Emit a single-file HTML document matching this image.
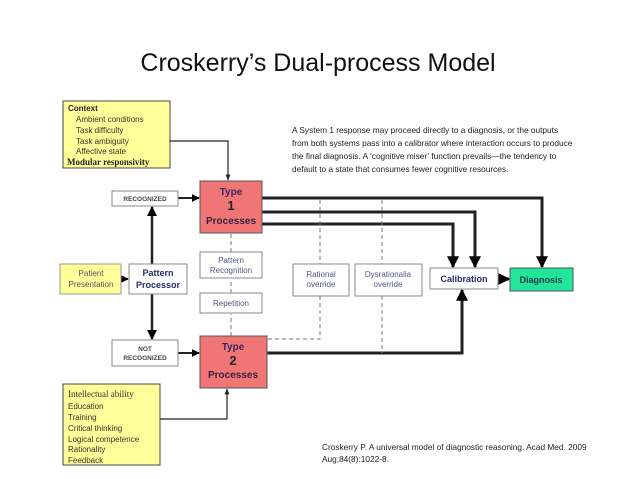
<!DOCTYPE html>
<html><head><meta charset="utf-8"><style>
html,body{margin:0;padding:0;background:#fff;}
svg{display:block;font-family:"Liberation Sans",Arial,sans-serif;}
</style></head><body>
<svg width="638" height="479" viewBox="0 0 638 479" xmlns="http://www.w3.org/2000/svg">
<defs>
<marker id="a" viewBox="0 0 10 10" refX="9" refY="5" markerWidth="4" markerHeight="4" orient="auto"><path d="M0,0L10,5L0,10z" fill="#000"/></marker>
<marker id="s" viewBox="0 0 10 10" refX="9" refY="5" markerWidth="5" markerHeight="5" orient="auto"><path d="M0,1L10,5L0,9z" fill="#222"/></marker>
</defs>
<text x="318" y="71" font-size="25" text-anchor="middle" fill="#111">Croskerry’s Dual-process Model</text>

<!-- Context box -->
<rect x="63" y="101" width="107" height="67" fill="#ffff99" stroke="#444"/>
<g font-size="8" fill="#333">
<text x="68" y="111" font-weight="bold" fill="#222">Context</text>
<text x="76" y="122">Ambient conditions</text>
<text x="76" y="133">Task difficulty</text>
<text x="76" y="144">Task ambiguity</text>
<text x="76" y="154">Affective state</text>
</g>
<text x="67" y="165" font-size="9" font-weight="bold" font-family="Liberation Serif,serif" fill="#222">Modular responsivity</text>

<!-- Paragraph -->
<g font-size="8.3" fill="#222">
<text x="292" y="133">A System 1 response may proceed directly to a diagnosis, or the outputs</text>
<text x="292" y="146">from both systems pass into a calibrator where interaction occurs to produce</text>
<text x="292" y="159">the final diagnosis. A ‘cognitive miser’ function prevails—the tendency to</text>
<text x="292" y="172">default to a state that consumes fewer cognitive resources.</text>
</g>

<!-- lines -->
<g stroke="#222" fill="none">
<path d="M170,141H228V180" stroke-width="1.2" marker-end="url(#s)"/>
<path d="M160,419H227V389" stroke-width="1.2" marker-end="url(#s)"/>
<path d="M178,198H199" stroke-width="2" marker-end="url(#a)"/>
<path d="M178,353H199" stroke-width="2" marker-end="url(#a)"/>
<path d="M152,264V207" stroke-width="2.5" marker-end="url(#a)"/>
<path d="M152,294V339" stroke-width="2.5" marker-end="url(#a)"/>
<path d="M121,279H128" stroke-width="2" marker-end="url(#a)"/>
<path d="M262,198H542V267" stroke-width="3" marker-end="url(#a)"/>
<path d="M262,212H475V267" stroke-width="3" marker-end="url(#a)"/>
<path d="M262,224H453V267" stroke-width="3" marker-end="url(#a)"/>
<path d="M267,353H462V290" stroke-width="3" marker-end="url(#a)"/>
<path d="M498,279H509" stroke-width="3" marker-end="url(#a)"/>
<path d="M320,200V264M320,296V339H268" stroke-width="1" stroke-dasharray="4,3" stroke="#777"/>
<path d="M382,200V264M382,296V353" stroke-width="1" stroke-dasharray="4,3" stroke="#777"/>
<path d="M231,252V234M231,293V279M231,336V314" stroke-width="1" stroke-dasharray="4,3" stroke="#777"/>
</g>

<!-- boxes -->
<rect x="200" y="181" width="62" height="52" fill="#f07676" stroke="#555"/>
<g text-anchor="middle" font-weight="bold" fill="#3a2560">
<text x="231" y="195" font-size="10">Type</text>
<text x="231" y="210" font-size="13" fill="#222">1</text>
<text x="231" y="224" font-size="10" fill="#3a2040">Processes</text>
</g>
<rect x="200" y="336" width="67" height="52" fill="#f07676" stroke="#555"/>
<g text-anchor="middle" font-weight="bold" fill="#3a2560">
<text x="233" y="350" font-size="10">Type</text>
<text x="233" y="365" font-size="13" fill="#222">2</text>
<text x="233" y="378" font-size="10" fill="#3a2040">Processes</text>
</g>
<g fill="#fff" stroke="#888">
<rect x="112" y="191" width="66" height="15"/>
<rect x="112" y="340" width="66" height="26"/>
<rect x="129" y="264" width="58" height="30"/>
<rect x="200" y="252" width="62" height="26"/>
<rect x="200" y="293" width="62" height="20"/>
<rect x="293" y="264" width="56" height="32"/>
<rect x="355" y="264" width="67" height="32"/>
<rect x="430" y="268" width="68" height="21"/>
</g>
<rect x="60" y="264" width="61" height="30" fill="#ffff99" stroke="#999"/>
<rect x="510" y="268" width="63" height="23" fill="#22e59a" stroke="#555"/>
<g text-anchor="middle" font-size="6.5" font-weight="bold" fill="#444">
<text x="145" y="201">RECOGNIZED</text>
<text x="145" y="351">NOT</text>
<text x="145" y="360">RECOGNIZED</text>
</g>
<g text-anchor="middle" font-size="8" fill="#556">
<text x="91" y="276">Patient</text>
<text x="91" y="287">Presentation</text>
<text x="231" y="263" fill="#558">Pattern</text>
<text x="231" y="273" fill="#558">Recognition</text>
<text x="231" y="306" fill="#558">Repetition</text>
<text x="321" y="277" fill="#558">Rational</text>
<text x="321" y="287" fill="#558">override</text>
<text x="388" y="277" fill="#558">Dysrationalia</text>
<text x="388" y="287" fill="#558">override</text>
</g>
<g text-anchor="middle" font-size="9" font-weight="bold" fill="#2a2a70">
<text x="158" y="276">Pattern</text>
<text x="158" y="288">Processor</text>
<text x="464" y="282">Calibration</text>
<text x="541" y="283" fill="#1a3a50">Diagnosis</text>
</g>

<!-- Intellectual -->
<rect x="63" y="384" width="97" height="81" fill="#ffff99" stroke="#444"/>
<text x="68" y="397" font-size="9" font-family="Liberation Serif,serif" fill="#333">Intellectual ability</text>
<g font-size="8" fill="#333">
<text x="68" y="409">Education</text>
<text x="68" y="420">Training</text>
<text x="68" y="431">Critical thinking</text>
<text x="68" y="442">Logical competence</text>
<text x="68" y="452">Rationality</text>
<text x="68" y="463">Feedback</text>
</g>

<g font-size="8.3" fill="#222">
<text x="322" y="450">Croskerry P. A universal model of diagnostic reasoning. Acad Med. 2009</text>
<text x="322" y="462">Aug;84(8):1022-8.</text>
</g>
</svg>
</body></html>
